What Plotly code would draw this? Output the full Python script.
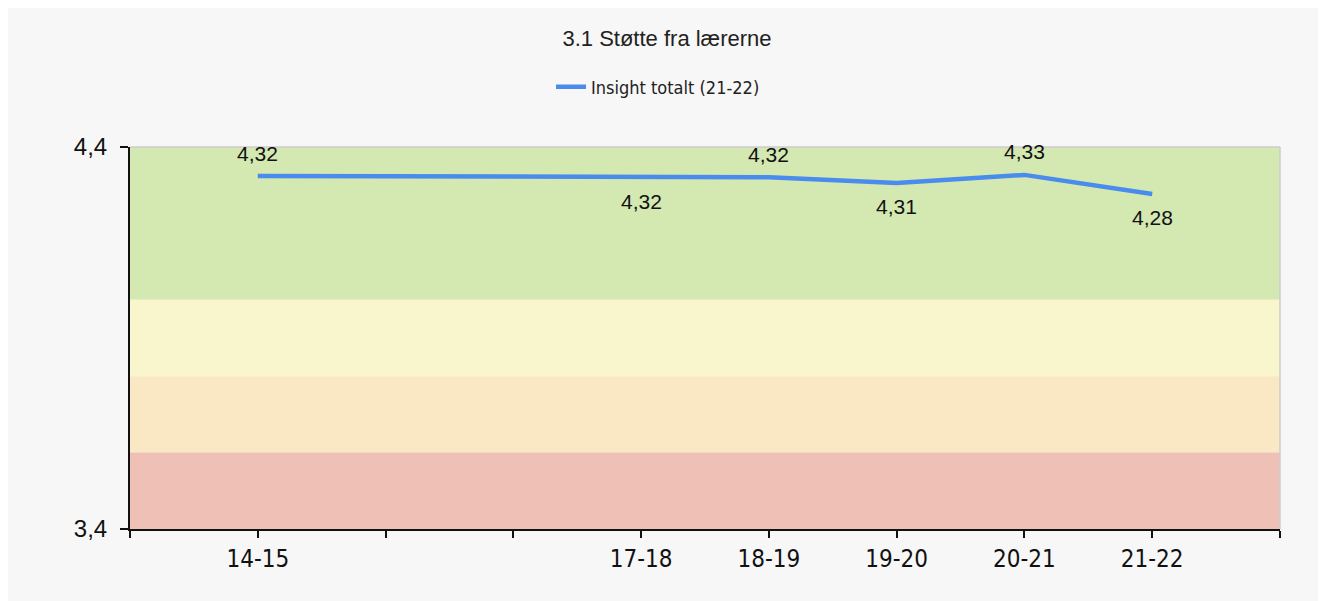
import plotly.graph_objects as go

# ---- data ----
categories = ["14-15", "15-16", "16-17", "17-18", "18-19", "19-20", "20-21", "21-22"]
tick_labels = ["14-15", "", "", "17-18", "18-19", "19-20", "20-21", "21-22"]
values = [4.324, None, None, 4.321, 4.321, 4.306, 4.327, 4.277]
label_side = ["above", None, None, "below", "above", "below", "above", "below"]
series_name = "Insight totalt (21-22)"
title_text = "3.1 Støtte fra lærerne"
y_min, y_max = 3.4, 4.4
bands = [(4.0, 4.4, "#d4e8b1"), (3.8, 4.0, "#f9f5cd"), (3.6, 3.8, "#fae8c4"), (3.4, 3.6, "#efc0b6")]

xs = list(range(len(categories)))

# page has an 8px body margin; compensate so the plot lands where the reference has it
OFF = 8
W, H = 1326 - OFF, 601 - OFF
ml, mt = 130 - OFF, 147 - OFF
mr, mb = W - (1280 - OFF), H - (529 - OFF)

fig = go.Figure()
fig.add_trace(go.Scatter(
    x=xs, y=values, mode="lines", connectgaps=True,
    name=series_name,
    line=dict(color="#4a8bee", width=4.5),
    hoverinfo="skip",
))

shapes = []
for lo, hi, col in bands:
    shapes.append(dict(type="rect", xref="paper", yref="y", x0=0, x1=1, y0=lo, y1=hi,
                       fillcolor=col, line=dict(width=0), layer="below"))
# top/right light border
shapes.append(dict(type="line", xref="paper", yref="paper", x0=0, x1=1, y0=1, y1=1,
                   line=dict(color="#cccccc", width=1.5)))
shapes.append(dict(type="line", xref="paper", yref="paper", x0=1, x1=1, y0=0, y1=1,
                   line=dict(color="#cccccc", width=1.5)))

annotations = []
for x, v, side in zip(xs, values, label_side):
    if v is None:
        continue
    annotations.append(dict(
        x=x, y=v, xref="x", yref="y", showarrow=False,
        text=f"{v:.2f}".replace(".", ","),
        yshift=23 if side == "above" else -24,
        font=dict(family="Liberation Sans, Arial, sans-serif", size=21, color="#111111"),
    ))

fig.update_layout(
    width=W, height=H,
    margin=dict(l=ml, r=mr, t=mt, b=mb),
    paper_bgcolor="#f7f7f7",
    plot_bgcolor="rgba(0,0,0,0)",
    separators=", ",
    title=dict(text=title_text, x=(667 - OFF) / W, xanchor="center", xref="container",
               y=1 - (38 - OFF) / H, yanchor="middle", yref="container",
               font=dict(family="Liberation Sans, Arial, sans-serif", size=22, color="#222222")),
    showlegend=True,
    legend=dict(orientation="h", x=(658 - OFF) / W, xanchor="center", xref="container",
                y=1 - (87 - OFF) / H, yref="container", yanchor="middle",
                bgcolor="rgba(0,0,0,0)",
                font=dict(family="DejaVu Sans Condensed, Liberation Sans Narrow, Arial, sans-serif", size=18, color="#222222")),
    shapes=shapes,
    annotations=annotations,
    xaxis=dict(
        range=[-1, len(categories)],
        tickmode="array",
        tickvals=list(range(-1, len(categories) + 1)),
        ticktext=[""] + tick_labels + [""],
        ticks="outside", ticklen=7, tickwidth=1.5, tickcolor="#111111",
        showline=True, linecolor="#111111", linewidth=2,
        showgrid=False, zeroline=False, fixedrange=True,
        tickfont=dict(family="DejaVu Sans Condensed, Liberation Sans Narrow, Arial, sans-serif", size=24, color="#111111"),
    ),
    yaxis=dict(
        range=[y_min, y_max],
        tickmode="array", tickvals=[y_min, y_max],
        tickformat=".1f",
        ticks="outside", ticklen=8, tickwidth=1.5, tickcolor="#111111",
        ticklabelstandoff=8,
        showline=True, linecolor="#111111", linewidth=2,
        showgrid=False, zeroline=False, fixedrange=True,
        tickfont=dict(family="Liberation Sans, Arial, sans-serif", size=24, color="#111111"),
    ),
)

fig.write_html("out.html")
